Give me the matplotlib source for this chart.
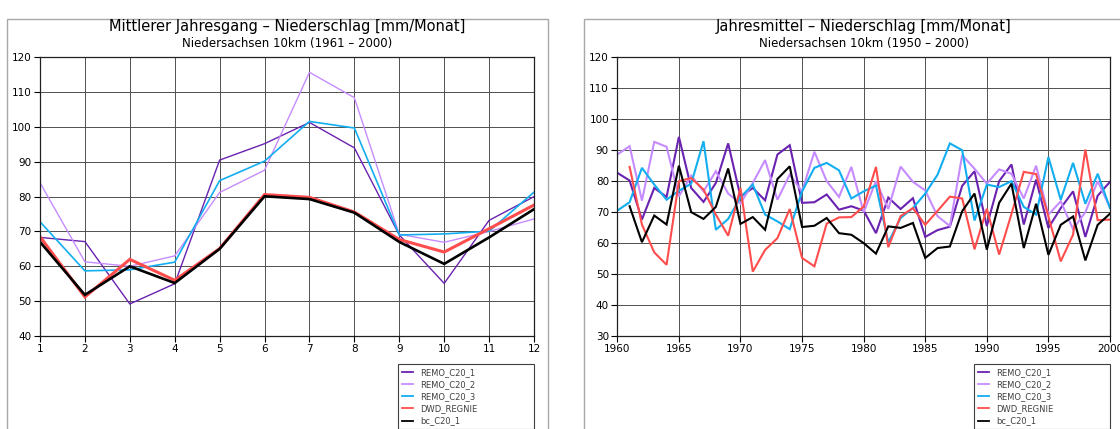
import numpy as np
import matplotlib
matplotlib.use('Agg')
import matplotlib.pyplot as plt
from matplotlib.patches import Rectangle


# monthly cycle 1961-2000
months = np.arange(1, 13)
mon_remo1 = [68.3, 67.1, 49.2, 55.0, 90.5, 95.2, 101.3, 94.0, 69.0, 55.1, 73.2, 80.0]
mon_remo2 = [84.0, 61.3, 60.0, 63.0, 81.2, 87.6, 115.7, 108.4, 69.2, 66.9, 70.0, 73.6]
mon_remo3 = [72.8, 58.7, 59.0, 61.2, 84.6, 90.2, 101.6, 99.7, 69.0, 69.3, 70.1, 81.3]
mon_dwd   = [68.5, 51.2, 62.0, 56.0, 65.1, 80.6, 79.8, 75.6, 67.7, 64.1, 70.8, 77.6]
mon_bc    = [67.0, 51.8, 60.0, 55.2, 65.0, 80.1, 79.3, 75.4, 67.0, 60.7, 68.3, 76.4]

# annual means
years = np.arange(1960, 2001)
ann_remo1 = [82.7, 80.2, 67.6, 77.8, 74.9, 94.3, 77.8, 73.3, 79.4, 92.2,
             75.0, 77.8, 73.8, 88.6, 91.6, 73.0, 73.2, 75.7, 70.8, 71.9,
             70.5, 63.2, 74.7, 71.0, 74.5, 62.0, 64.2, 65.3, 78.5, 83.2,
             65.5, 80.0, 85.4, 66.0, 80.5, 64.9, 71.3, 76.7, 62.0, 75.3, 79.8]
ann_remo2 = [88.6, 91.3, 73.7, 92.7, 91.1, 75.1, 81.8, 76.7, 83.2, 76.0,
             72.8, 79.4, 86.8, 74.0, 82.1, 76.7, 89.5, 80.0, 74.9, 84.6,
             70.0, 80.0, 71.0, 84.7, 79.8, 77.0, 68.7, 65.5, 88.4, 84.0,
             79.2, 83.8, 82.4, 74.4, 85.0, 69.2, 73.5, 64.5, 70.0, 80.0, 71.5]
ann_remo3 = [70.5, 73.2, 84.3, 78.9, 74.0, 76.9, 79.2, 92.9, 64.3, 67.8,
             74.8, 78.9, 69.2, 67.0, 64.5, 76.7, 84.3, 85.9, 83.5, 74.4,
             76.7, 78.6, 60.2, 68.1, 71.3, 76.0, 82.1, 92.2, 90.0, 67.3,
             78.9, 78.1, 80.0, 71.7, 69.2, 87.8, 74.0, 85.9, 72.7, 82.4, 71.3]
ann_dwd   = [np.nan, 84.6, 66.0, 57.0, 53.0, 80.0, 81.0, 77.3, 69.2, 62.4,
             77.8, 50.8, 57.8, 61.6, 71.0, 55.2, 52.5, 66.3, 68.3, 68.4,
             71.8, 84.6, 58.7, 68.7, 71.3, 65.9, 70.4, 75.0, 74.4, 58.0,
             71.1, 56.3, 69.4, 83.0, 82.3, 68.6, 54.1, 62.7, 90.2, 67.4, 67.6]
ann_bc    = [np.nan, 71.9, 60.3, 68.9, 66.0, 85.0, 70.0, 67.8, 71.7, 84.1,
             66.2, 68.4, 64.3, 80.7, 84.8, 65.2, 65.6, 68.1, 63.2, 62.7,
             60.0, 56.6, 65.4, 64.9, 66.5, 55.2, 58.4, 58.9, 70.3, 76.0,
             57.9, 73.0, 79.2, 58.4, 72.7, 56.2, 65.9, 68.6, 54.4, 65.9, 69.5]

labels = ['REMO_C20_1', 'REMO_C20_2', 'REMO_C20_3', 'DWD_REGNIE', 'bc_C20_1']
colors = ['#6a22b0', '#c68cff', '#12aef0', '#ff4d4d', '#000000']

W, H = 1120, 429


def fx(px):
    return px / W


def fy(py):
    return 1 - py / H


def _frame(fig, x0, x1):
    fig.add_artist(Rectangle((fx(x0), -0.05), fx(x1 - x0), fy(19) + 0.05,
                             transform=fig.transFigure, fill=False,
                             edgecolor='#a8a8a8', linewidth=1.0))


def _panel(fig, x0, x1, x, series, widths, title, subtitle):
    ax = fig.add_axes([fx(x0), fy(336), fx(x1 - x0), fy(57.3) - fy(336)])
    for y, lab, c, lw in zip(series, labels, colors, widths):
        ax.plot(x, y, color=c, lw=lw, label=lab, solid_joinstyle='miter')
    ax.grid(True, color='#505050', linewidth=0.7)
    ax.set_axisbelow(True)
    ax.tick_params(direction='out', length=4, width=0.8, labelsize=7.5,
                   pad=2, colors='black')
    for s in ax.spines.values():
        s.set_color('#202020')
        s.set_linewidth(0.9)

    xc = fx((x0 + x1) / 2)
    fig.text(xc, fy(27), title, ha='center', va='center', fontsize=10.5)
    fig.text(xc, fy(43), subtitle, ha='center', va='center', fontsize=8.5)

    leg = ax.legend(loc='upper left', mode='expand',
                    bbox_to_anchor=(fx(x1 - 136), fy(427), fx(136), fy(364) - fy(427)),
                    bbox_transform=fig.transFigure, fontsize=6,
                    handlelength=1.4, handletextpad=0.8, labelspacing=0.38,
                    borderpad=0.45, borderaxespad=0, fancybox=False,
                    framealpha=1, edgecolor='#404040')
    leg.get_frame().set_linewidth(0.8)
    for t in leg.get_texts():
        t.set_color('#404040')
    for h in leg.get_lines():
        h.set_linewidth(1.3)
    return ax


fig = plt.figure(figsize=(W / 100, H / 100), dpi=100)

_frame(fig, 7, 548)
_frame(fig, 584, 1140)

ax1 = _panel(fig, 40, 534, months,
             [mon_remo1, mon_remo2, mon_remo3, mon_dwd, mon_bc],
             [1.0, 1.0, 1.2, 2.2, 1.9],
             'Mittlerer Jahresgang – Niederschlag [mm/Monat]',
             'Niedersachsen 10km (1961 – 2000)')
ax1.set_xlim(1, 12)
ax1.set_ylim(40, 120)
ax1.set_xticks(months)
ax1.set_yticks(np.arange(40, 121, 10))

ax2 = _panel(fig, 617.3, 1110, years,
             [ann_remo1, ann_remo2, ann_remo3, ann_dwd, ann_bc],
             [1.5, 1.5, 1.5, 1.5, 1.5],
             'Jahresmittel – Niederschlag [mm/Monat]',
             'Niedersachsen 10km (1950 – 2000)')
ax2.set_xlim(1960, 2000)
ax2.set_ylim(30, 120)
ax2.set_xticks(np.arange(1960, 2001, 5))
ax2.set_yticks(np.arange(30, 121, 10))

fig.savefig('out.png', dpi=100)
